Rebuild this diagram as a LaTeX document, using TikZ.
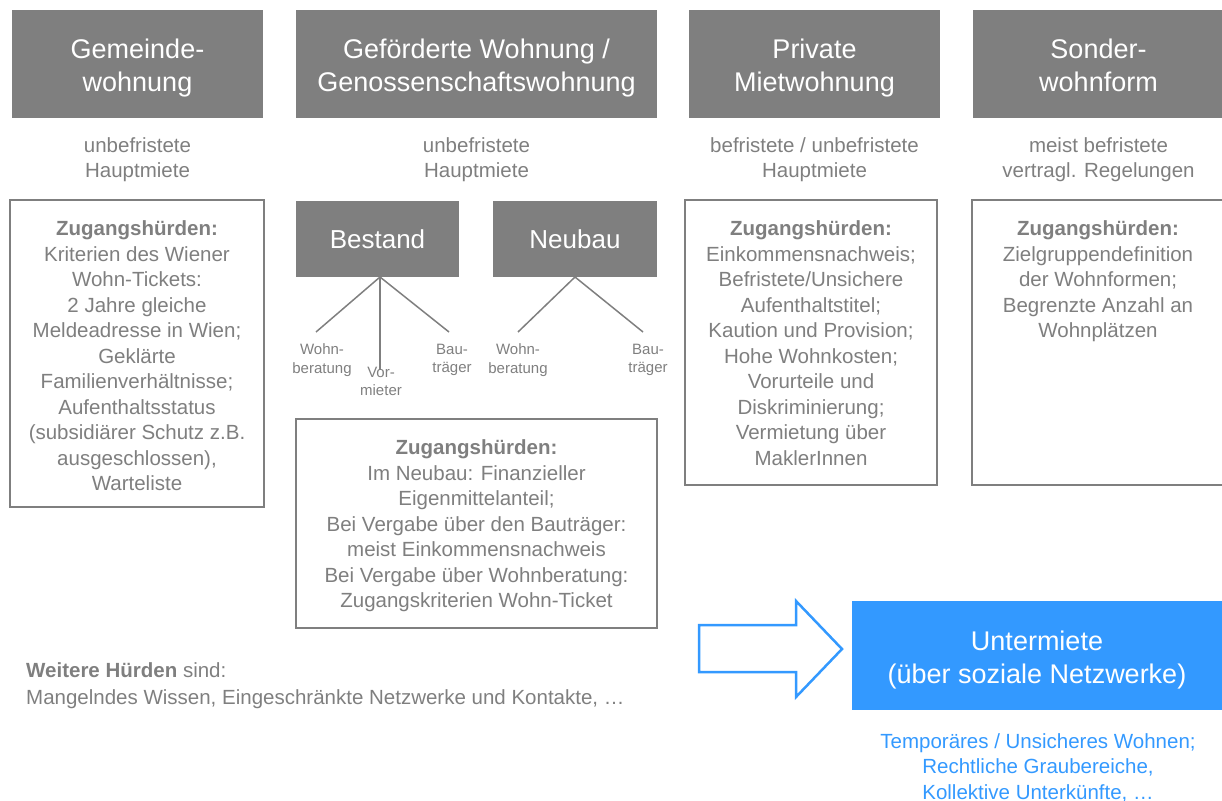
\documentclass[tikz,border=0pt]{standalone}
\usepackage{fontspec}
\setmainfont{Liberation Sans}
\definecolor{hgray}{HTML}{7F7F7F}
\definecolor{ublue}{HTML}{3399FF}
\begin{document}
\begin{tikzpicture}[x=1pt,y=-1pt,
  header/.style={fill=hgray, inner sep=0pt},
  headtext/.style={text=white, align=center, inner sep=0pt, anchor=north,
    font=\fontsize{27}{33}\selectfont},
  subhead/.style={fill=hgray, text=white, align=center, inner sep=0pt,
    font=\fontsize{26}{31}\selectfont},
  frame/.style={draw=hgray, line width=2.5pt, fill=white, inner sep=0pt},
  body/.style={text=hgray, align=center, inner sep=0pt, anchor=north,
    font=\fontsize{20.5}{25.5}\selectfont},
  small/.style={text=hgray, align=center, inner sep=0pt, anchor=north,
    font=\fontsize{15}{18.5}\selectfont},
  branch/.style={draw=hgray, line width=1.5pt},
]
\useasboundingbox (0,0) rectangle (1222,800);

% headers
\node[header, minimum width=251pt, minimum height=108pt] (h1) at (137.5,64) {};
\node[header, minimum width=361pt, minimum height=108pt] (h2) at (476.5,64) {};
\node[header, minimum width=251pt, minimum height=108pt] (h3) at (814.5,64) {};
\node[header, minimum width=251pt, minimum height=108pt] (h4) at (1098.5,64) {};
\node[headtext] (h1t) at (137.5,38.5) {Gemeinde-\\wohnung};
\node[headtext] (h2t) at (476.5,38.5) {Geförderte Wohnung /\\Genossenschaftswohnung};
\node[headtext] (h3t) at (814.5,38.5) {Private\\Mietwohnung};
\node[headtext] (h4t) at (1098.5,38.5) {Sonder-\\wohnform};

% subtitles
\node[body] (s1) at (137.5,137) {unbefristete\\Hauptmiete};
\node[body] (s2) at (476.5,137) {unbefristete\\Hauptmiete};
\node[body] (s3) at (814.5,137) {befristete / unbefristete\\Hauptmiete};
\node[body] (s4) at (1098.5,137) {meist befristete\\vertragl. Regelungen};

% frames
\node[frame, minimum width=254pt, minimum height=307pt] (f1) at (137,353.5) {};
\node[frame, minimum width=252pt, minimum height=285pt] (f3) at (811,342.5) {};
\node[frame, minimum width=252pt, minimum height=285pt] (f4) at (1098,342.5) {};
\node[frame, minimum width=361pt, minimum height=209pt] (f2) at (476.5,523.5) {};

\node[body] (t1) at (137,220.5) {\textbf{Zugangshürden:}\\Kriterien des Wiener\\Wohn-Tickets:\\2 Jahre gleiche\\Meldeadresse in Wien;\\Geklärte\\Familienverhältnisse;\\Aufenthaltsstatus\\(subsidiärer Schutz z.B.\\ausgeschlossen),\\Warteliste};
\node[body] (t3) at (811,220.5) {\textbf{Zugangshürden:}\\Einkommensnachweis;\\Befristete/Unsichere\\Aufenthaltstitel;\\Kaution und Provision;\\Hohe Wohnkosten;\\Vorurteile und\\Diskriminierung;\\Vermietung über\\MaklerInnen};
\node[body] (t4) at (1098,220.5) {\textbf{Zugangshürden:}\\Zielgruppendefinition\\der Wohnformen;\\Begrenzte Anzahl an\\Wohnplätzen};
\node[body] (t2) at (476.5,439.5) {\textbf{Zugangshürden:}\\Im Neubau: Finanzieller\\Eigenmittelanteil;\\Bei Vergabe über den Bauträger:\\meist Einkommensnachweis\\Bei Vergabe über Wohnberatung:\\Zugangskriterien Wohn-Ticket};

% Bestand / Neubau
\node[subhead, minimum width=163pt, minimum height=76pt] (best) at (377.5,239) {Bestand};
\node[subhead, minimum width=164pt, minimum height=76pt] (neu) at (575,239) {Neubau};

\coordinate (broot) at (380,277);
\coordinate (nroot) at (575,277);
\coordinate (bwE) at (316,332);
\coordinate (bvE) at (380,370);
\coordinate (bbE) at (449,332);
\coordinate (nwE) at (518,332);
\coordinate (nbE) at (643,332);
\draw[branch] (broot) -- (bwE);
\draw[branch] (broot) -- (bvE);
\draw[branch] (broot) -- (bbE);
\draw[branch] (nroot) -- (nwE);
\draw[branch] (nroot) -- (nbE);

\node[small] (bw) at (322,343.5) {Wohn-\\beratung};
\node[small] (bv) at (381,366.5) {Vor-\\mieter};
\node[small] (bb) at (452,343.5) {Bau-\\träger};
\node[small] (nw) at (518,343.5) {Wohn-\\beratung};
\node[small] (nb) at (648,343.5) {Bau-\\träger};

% further hurdles
\node[text=hgray, align=left, inner sep=0pt, anchor=north west,
  font=\fontsize{20.5}{27}\selectfont] (wh) at (26,662.5)
  {\textbf{Weitere Hürden} sind:\\Mangelndes Wissen, Eingeschränkte Netzwerke und Kontakte, …};

% arrow and sublet box
\node[fill=ublue, inner sep=0pt, minimum width=370pt, minimum height=109pt] (um) at (1037,655.5) {};
\node[text=white, align=center, inner sep=0pt, anchor=north,
  font=\fontsize{27}{33}\selectfont] (umt) at (1037,630.5) {Untermiete\\(über soziale Netzwerke)};
\draw[draw=ublue, line width=2.5pt, fill=white, line join=miter]
  (699,625) -- (796,625) -- (796,601) -- (842,649) -- (796,697) -- (796,672) -- (699,672) -- cycle;
\node[body, text=ublue] (ut) at (1038,733)
  {Temporäres / Unsicheres Wohnen;\\Rechtliche Graubereiche,\\Kollektive Unterkünfte, …};
\end{tikzpicture}
\end{document}
